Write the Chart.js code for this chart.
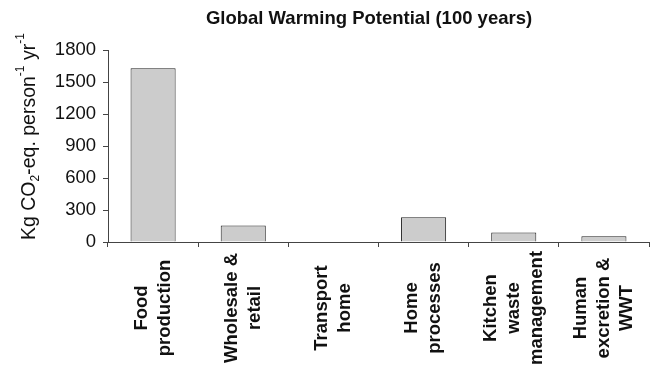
<!DOCTYPE html>
<html>
<head>
<meta charset="utf-8">
<script src="https://cdn.jsdelivr.net/npm/chart.js@4/dist/chart.umd.min.js"></script>
<style>
  html, body { margin: 0; padding: 0; background: #ffffff; }
  canvas { display: block; }
</style>
</head>
<body>
<canvas id="c" width="651" height="365"></canvas>
<script>
// ---- data ----
const chartTitle = "Global Warming Potential (100 years)";
const categories = [
  ["Food", "production"],
  ["Wholesale &", "retail"],
  ["Transport", "home"],
  ["Home", "processes"],
  ["Kitchen", "waste", "management"],
  ["Human", "excretion &", "WWT"]
];
const gwpValues = [1630, 155, 0, 232, 90, 55];
const yTickValues = [0, 300, 600, 900, 1200, 1500, 1800];
// y-axis title pieces: [text, kind] kind: n=normal, sub, sup
const yTitleParts = [["Kg CO", "n"], ["2", "sub"], ["-eq. person", "n"], ["-1", "sup"], [" yr", "n"], ["-1", "sup"]];

const FONT = "'Liberation Sans', Arial, Helvetica, sans-serif";
const TEXT = "#111111";
const AXIS = "#444444";

const annotate = {
  id: "annotate",
  afterDraw(chart) {
    const ctx = chart.ctx;
    const xs = chart.scales.x;
    ctx.save();
    ctx.fillStyle = TEXT;

    // title
    ctx.font = "bold 18.5px " + FONT;
    ctx.textAlign = "center";
    ctx.textBaseline = "middle";
    ctx.fillText(chartTitle, 369, 19);

    // category labels, rotated, centered lines
    ctx.font = "bold 18.5px " + FONT;
    const lh = 23;
    const cy = 308;
    categories.forEach((lines, i) => {
      const cx = xs.getPixelForValue(i);
      lines.forEach((ln, j) => {
        const x = cx + (j - (lines.length - 1) / 2) * lh;
        ctx.save();
        ctx.translate(x, cy);
        ctx.rotate(-Math.PI / 2);
        ctx.textAlign = "center";
        ctx.textBaseline = "middle";
        ctx.fillText(ln, 0, 0);
        ctx.restore();
      });
    });

    // y-axis title with sub/superscripts
    ctx.save();
    ctx.translate(35, 240);
    ctx.rotate(-Math.PI / 2);
    ctx.textAlign = "left";
    ctx.textBaseline = "alphabetic";
    let px = 0;
    yTitleParts.forEach(([t, kind]) => {
      let dy = 0;
      if (kind === "n") ctx.font = "19.5px " + FONT;
      else ctx.font = "12px " + FONT;
      if (kind === "sub") dy = 4;
      if (kind === "sup") dy = -11;
      ctx.fillText(t, px, dy);
      px += ctx.measureText(t).width;
    });
    ctx.restore();

    ctx.restore();
  }
};

new Chart(document.getElementById("c"), {
  type: "bar",
  data: {
    labels: categories,
    datasets: [{
      data: gwpValues,
      backgroundColor: "#cccccc",
      borderColor: "#222222",
      borderWidth: 1,
      borderSkipped: "start",
      barPercentage: 0.5,
      categoryPercentage: 1.0
    }]
  },
  options: {
    responsive: false,
    animation: false,
    events: [],
    layout: { padding: { left: 0, right: 2, top: 50, bottom: 0 } },
    plugins: { legend: { display: false }, title: { display: false }, tooltip: { enabled: false } },
    scales: {
      x: {
        offset: true,
        grid: { offset: true, drawOnChartArea: false, drawTicks: true, tickLength: 5, color: AXIS, lineWidth: 1 },
        border: { display: true, color: AXIS, width: 1 },
        ticks: { display: false },
        afterFit(scale) { scale.height = 123; }
      },
      y: {
        min: 0,
        max: 1800,
        afterBuildTicks(scale) { scale.ticks = yTickValues.map(v => ({ value: v })); },
        grid: { drawOnChartArea: false, drawTicks: true, tickLength: 5, color: AXIS, lineWidth: 1 },
        border: { display: true, color: AXIS, width: 1 },
        ticks: { color: TEXT, font: { family: FONT, size: 18.5 }, padding: 7, callback: (v) => String(v) },
        afterFit(scale) { scale.width = 108; }
      }
    }
  },
  plugins: [annotate]
});
</script>
</body>
</html>
